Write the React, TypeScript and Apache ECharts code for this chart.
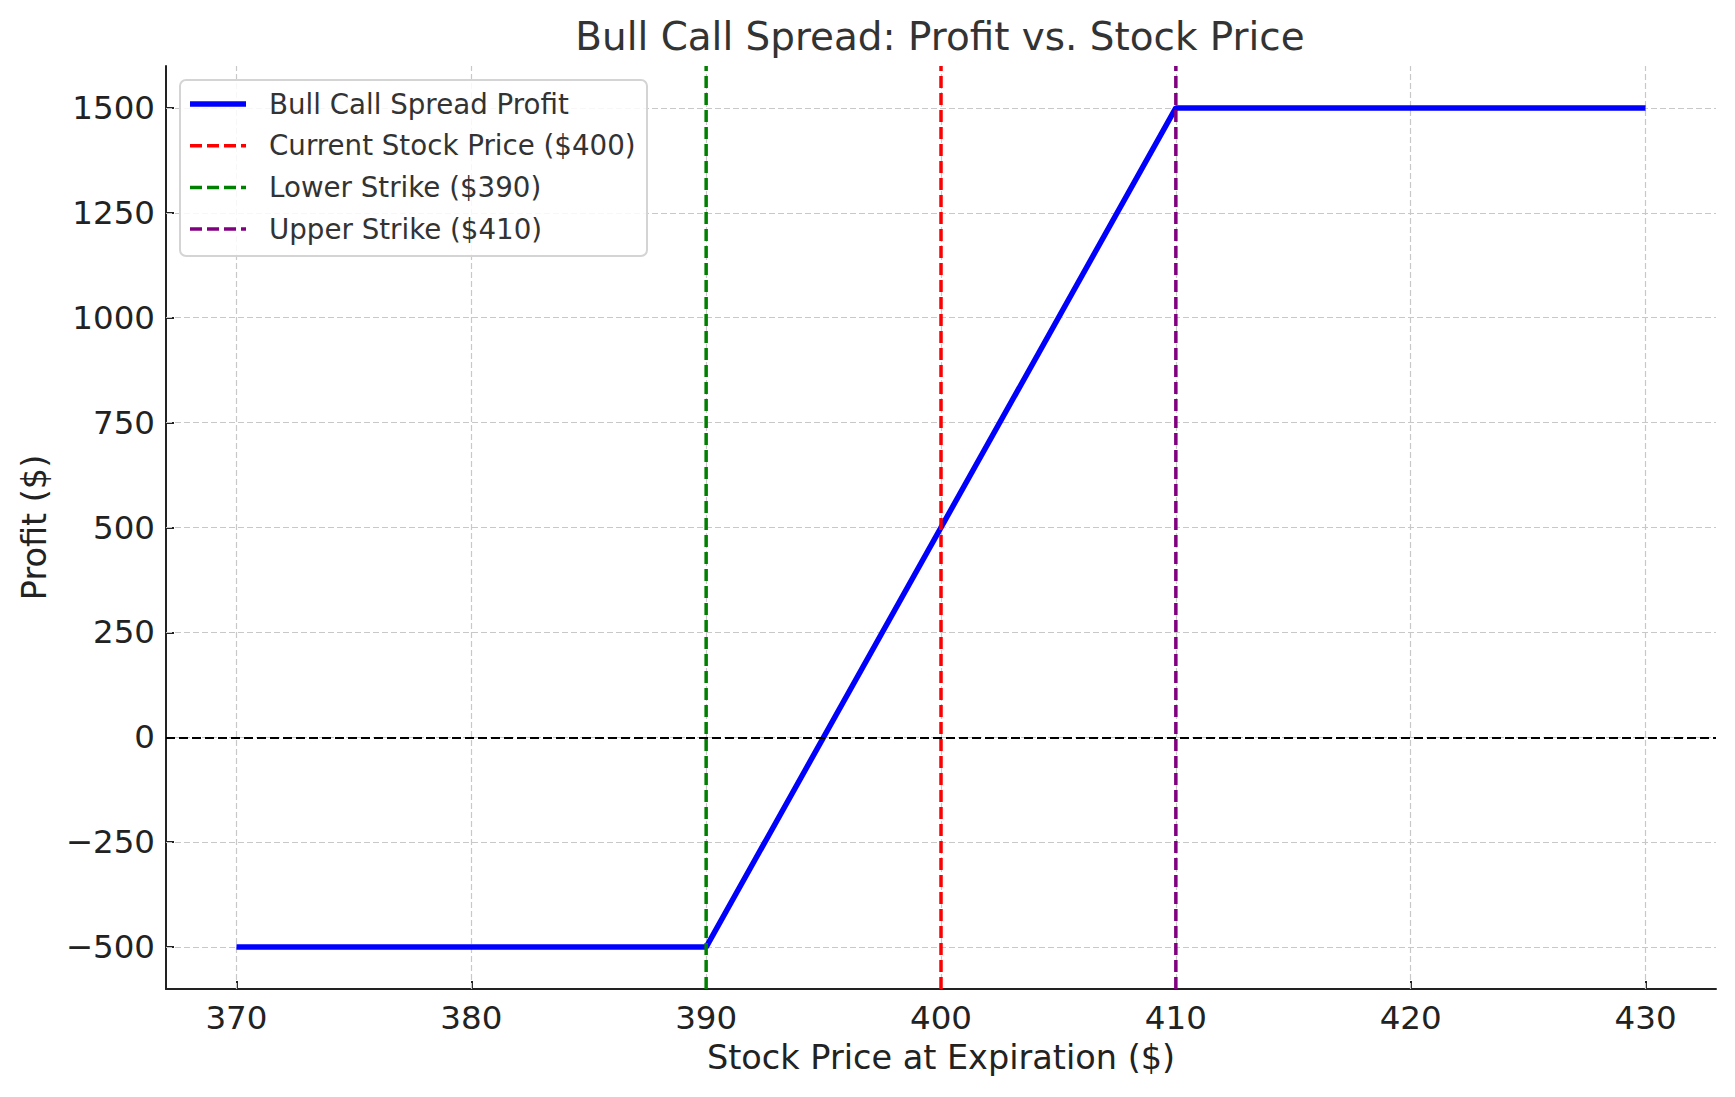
import React, { useEffect, useRef } from "react";
import * as echarts from "echarts";

const prices = [370, 390, 410, 430];
const profits = [-500, -500, 1500, 1500];
const xTicks = [370, 380, 390, 400, 410, 420, 430];
const yTicks = [-500, -250, 0, 250, 500, 750, 1000, 1250, 1500];
const currentPrice = 400;
const lowerStrike = 390;
const upperStrike = 410;
const xRange = [367, 433];
const yRange = [-600, 1600];

const legendItems = [
  { name: "Bull Call Spread Profit", color: "#0000ff", dashed: false },
  { name: "Current Stock Price ($400)", color: "#ff0000", dashed: true },
  { name: "Lower Strike ($390)", color: "#008000", dashed: true },
  { name: "Upper Strike ($410)", color: "#800080", dashed: true },
];

const FONT = "DejaVu Sans";

export default function App() {
  const ref = useRef<HTMLDivElement>(null);
  useEffect(() => {
    if (!ref.current) return;
    const chart = echarts.init(ref.current, undefined, { renderer: "svg" });
    const vline = (x: number, name: string, color: string) => ({
      type: "line",
      name,
      data: [
        [x, yRange[0]],
        [x, yRange[1]],
      ],
      showSymbol: false,
      symbol: "none",
      lineStyle: { color, width: 3.5, type: [12, 5] },
      z: 6,
      silent: true,
    });
    const legendGraphics: any[] = [
      {
        type: "rect",
        shape: { x: 180, y: 80, width: 467, height: 176, r: 6 },
        style: { fill: "rgba(255,255,255,0.85)", stroke: "#d4d4d4", lineWidth: 2 },
        z: 100,
      },
    ];
    legendItems.forEach((it, i) => {
      const y = 104 + i * 41.7;
      legendGraphics.push({
        type: "line",
        shape: { x1: 190, y1: y, x2: 246, y2: y },
        style: {
          stroke: it.color,
          lineWidth: it.dashed ? 3.5 : 5.5,
          lineDash: it.dashed ? [12, 5] : null,
        },
        z: 101,
      });
      legendGraphics.push({
        type: "text",
        x: 269,
        y,
        style: {
          text: it.name,
          fontFamily: FONT,
          fontSize: 27.7,
          fill: "#333333",
          verticalAlign: "middle",
          align: "left",
        },
        z: 101,
      });
    });
    chart.setOption({
      animation: false,
      backgroundColor: "#ffffff",
      title: {
        text: "Bull Call Spread: Profit vs. Stock Price",
        left: 935,
        textAlign: "center",
        top: 12,
        textStyle: { fontFamily: FONT, fontSize: 38.9, fontWeight: "normal", color: "#333333" },
      },
      grid: { left: 166, right: 19, top: 66, bottom: 108, containLabel: false },
      xAxis: {
        type: "value",
        min: xRange[0],
        max: xRange[1],
        name: "Stock Price at Expiration ($)",
        nameLocation: "middle",
        nameGap: 51,
        nameTextStyle: { fontFamily: FONT, fontSize: 33.5, color: "#222222" },
        axisLine: { show: true, onZero: false, lineStyle: { color: "#222222", width: 2 } },
        axisTick: { show: true, inside: true, length: 8, customValues: xTicks, lineStyle: { color: "#222222", width: 2 } },
        axisLabel: { customValues: xTicks, margin: 12, fontFamily: FONT, fontSize: 32.5, color: "#222222" },
        splitLine: { show: false },
      },
      yAxis: {
        type: "value",
        min: yRange[0],
        max: yRange[1],
        name: "Profit ($)",
        nameLocation: "middle",
        nameGap: 115,
        nameTextStyle: { fontFamily: FONT, fontSize: 33.5, color: "#222222" },
        axisLine: { show: true, onZero: false, lineStyle: { color: "#222222", width: 2 } },
        axisTick: { show: true, inside: true, length: 8, customValues: yTicks, lineStyle: { color: "#222222", width: 2 } },
        axisLabel: {
          customValues: yTicks,
          margin: 11,
          fontFamily: FONT,
          fontSize: 32.5,
          color: "#222222",
          formatter: (v: number) => (v < 0 ? "\u2212" + Math.abs(v) : String(v)),
        },
        splitLine: { show: false },
      },
      series: [
        {
          type: "line",
          name: "grid",
          data: [],
          silent: true,
          z: 1,
          markLine: {
            silent: true,
            z: 1,
            symbol: "none",
            label: { show: false },
            lineStyle: { color: "#c8c8c8", width: 1.2, type: [6, 3] },
            data: [
              ...xTicks.map((v) => ({ xAxis: v })),
              ...yTicks.map((v) => ({ yAxis: v })),
            ],
          },
        },
        {
          type: "line",
          name: "Bull Call Spread Profit",
          data: prices.map((p, i) => [p, profits[i]]),
          showSymbol: false,
          symbol: "none",
          lineStyle: { color: "#0000ff", width: 5.5 },
          z: 3,
          silent: true,
        },
        {
          type: "line",
          name: "zero",
          data: [],
          silent: true,
          z: 4,
          markLine: {
            silent: true,
            z: 4,
            symbol: "none",
            label: { show: false },
            lineStyle: { color: "#000000", width: 2.2, type: [9, 4] },
            data: [{ yAxis: 0 }],
          },
        },
        vline(currentPrice, "Current Stock Price ($400)", "#ff0000"),
        vline(lowerStrike, "Lower Strike ($390)", "#008000"),
        vline(upperStrike, "Upper Strike ($410)", "#800080"),
      ],
      graphic: legendGraphics,
    });
    return () => chart.dispose();
  }, []);
  return <div ref={ref} style={{ width: 1735, height: 1097, position: "absolute", left: 0, top: 0 }} />;
}
